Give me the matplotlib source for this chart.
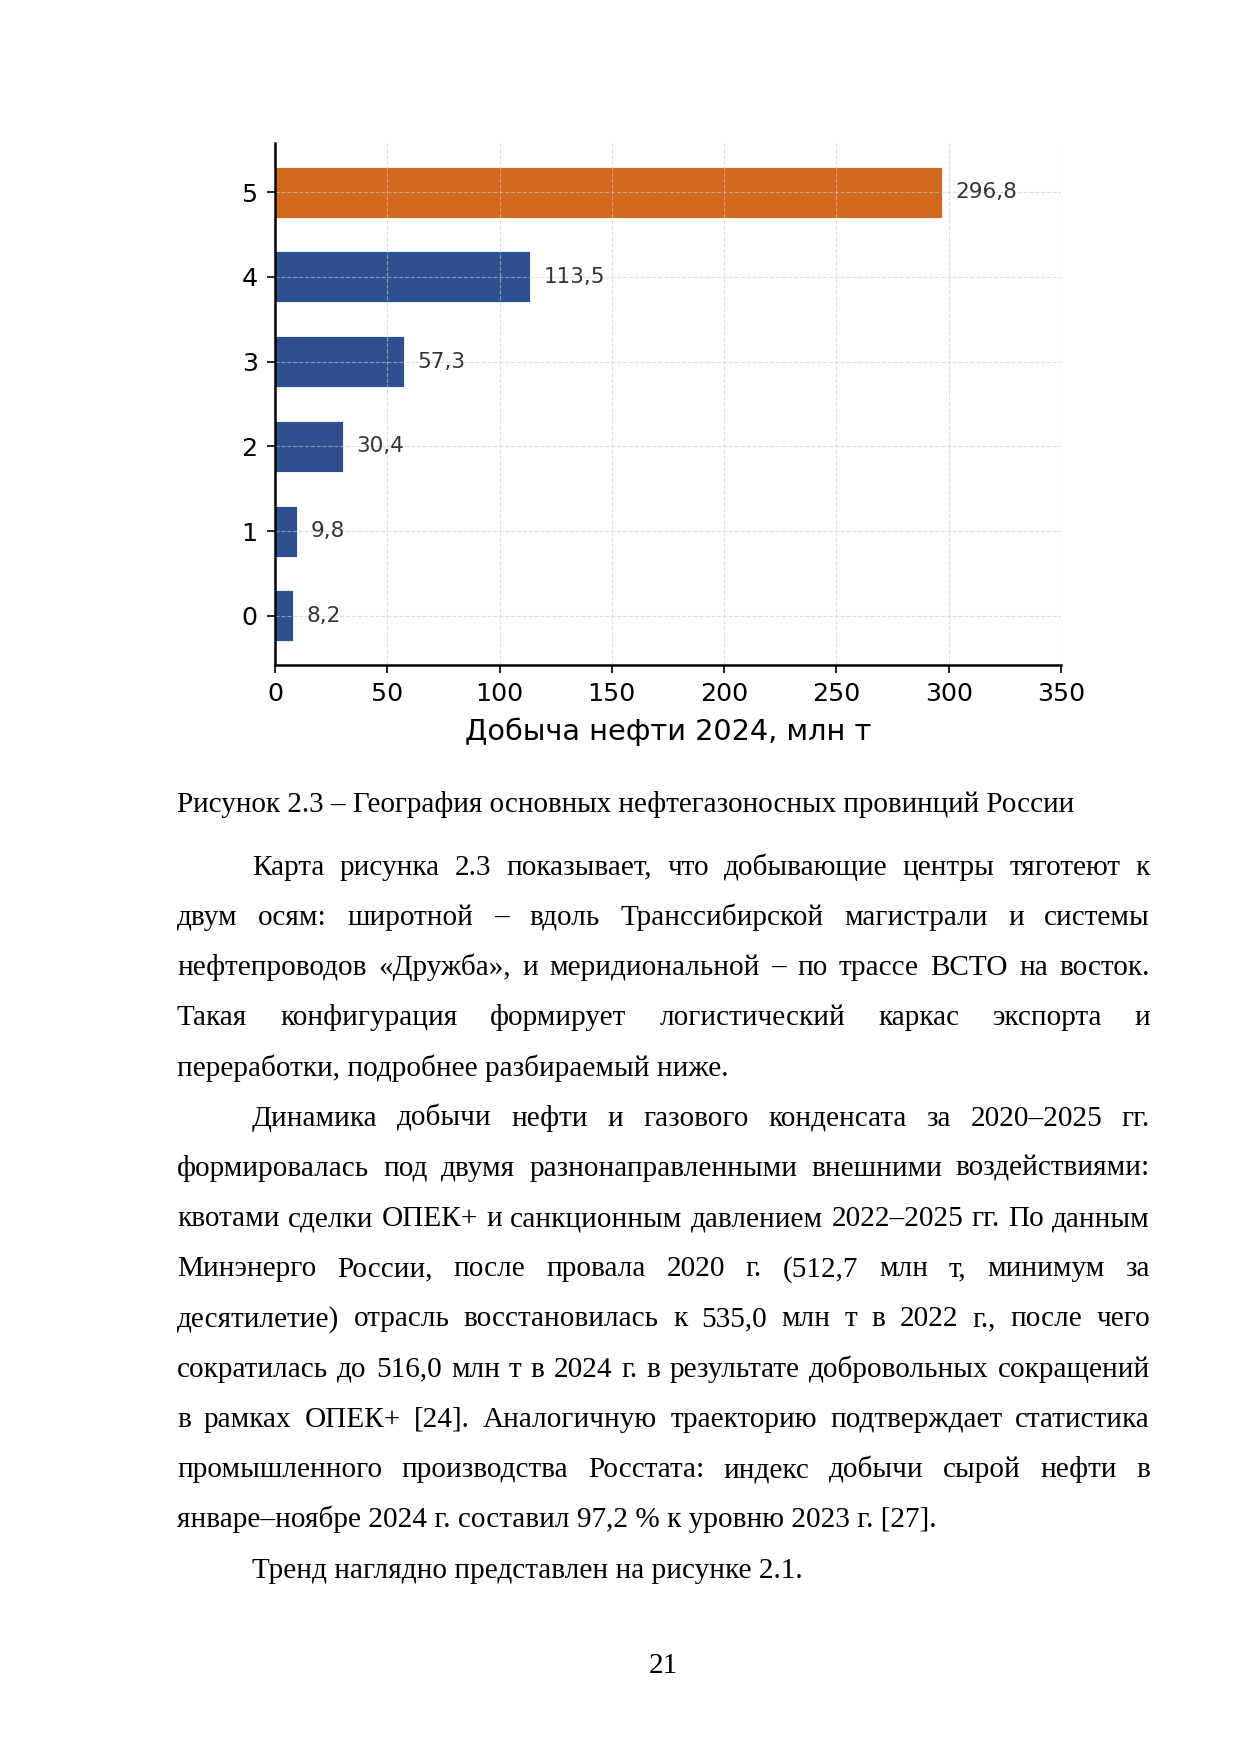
import matplotlib
matplotlib.use("Agg")
import matplotlib.pyplot as plt

# chart data
provinces = [0, 1, 2, 3, 4, 5]
output_2024 = [8.2, 9.8, 30.4, 57.3, 113.5, 296.8]
value_labels = ["8,2", "9,8", "30,4", "57,3", "113,5", "296,8"]
x_ticks = [0, 50, 100, 150, 200, 250, 300, 350]
x_label = "Добыча нефти 2024, млн т"

caption = "Рисунок 2.3 – География основных нефтегазоносных провинций России"

# body text, line by line as on the page: (text, indent, justify)
body_lines = [
    ("Карта рисунка 2.3 показывает, что добывающие центры тяготеют к", True, True),
    ("двум осям: широтной – вдоль Транссибирской магистрали и системы", False, True),
    ("нефтепроводов «Дружба», и меридиональной – по трассе ВСТО на восток.", False, True),
    ("Такая конфигурация формирует логистический каркас экспорта и", False, True),
    ("переработки, подробнее разбираемый ниже.", False, False),
    ("Динамика добычи нефти и газового конденсата за 2020–2025 гг.", True, True),
    ("формировалась под двумя разнонаправленными внешними воздействиями:", False, True),
    ("квотами сделки ОПЕК+ и санкционным давлением 2022–2025 гг. По данным", False, True),
    ("Минэнерго России, после провала 2020 г. (512,7 млн т, минимум за", False, True),
    ("десятилетие) отрасль восстановилась к 535,0 млн т в 2022 г., после чего", False, True),
    ("сократилась до 516,0 млн т в 2024 г. в результате добровольных сокращений", False, True),
    ("в рамках ОПЕК+ [24]. Аналогичную траекторию подтверждает статистика", False, True),
    ("промышленного производства Росстата: индекс добычи сырой нефти в", False, True),
    ("январе–ноябре 2024 г. составил 97,2 % к уровню 2023 г. [27].", False, False),
    ("Тренд наглядно представлен на рисунке 2.1.", True, False),
]
page_number = "21"

W, H = 1241, 1754
fig = plt.figure(figsize=(W / 100, H / 100), dpi=100)
fig.patch.set_facecolor("white")

# --- chart ---
ax = fig.add_axes([275 / W, 1 - 665 / H, (1061 - 275) / W, (665 - 143) / H])
colors = ["#2E5090"] * 5 + ["#D2691E"]
ax.barh(provinces, output_2024, height=0.6, color=colors, edgecolor="white", linewidth=0.6)
for p, v, lab in zip(provinces, output_2024, value_labels):
    ax.text(v + 6, p, lab, va="center", ha="left", fontsize=15.5, color="#333333",
            family="DejaVu Sans")
ax.set_xlim(0, 350)
ax.set_xticks(x_ticks)
ax.set_yticks(provinces)
ax.tick_params(axis="both", labelsize=18.3, length=6, width=1.2, pad=6.5)
ax.set_xlabel(x_label, fontsize=20.7, labelpad=8)
ax.grid(True, linestyle="--", color="#cccccc", alpha=0.6, linewidth=0.8)
for s in ["top", "right"]:
    ax.spines[s].set_visible(False)
for s in ["left", "bottom"]:
    ax.spines[s].set_linewidth(1.8)

# --- page text ---
serif = "Liberation Serif"
fs = 21.1
left, right, indent = 177, 1150, 252
fig.text(left / W, 1 - 812 / H, caption, family=serif, fontsize=20.95, va="baseline")

renderer = fig.canvas.get_renderer()
base0, step = 874.7, 50.2
for i, (line, ind, just) in enumerate(body_lines):
    yb = 1 - (base0 + i * step) / H
    x0 = indent if ind else left
    if not just:
        fig.text(x0 / W, yb, line, family=serif, fontsize=fs, va="baseline")
        continue
    words = line.split(" ")
    texts = [fig.text(0, yb, w, family=serif, fontsize=fs, va="baseline") for w in words]
    widths = [t.get_window_extent(renderer).width for t in texts]
    gap = (right - x0 - sum(widths)) / (len(words) - 1)
    x = x0
    for t, w in zip(texts, widths):
        t.set_x(x / W)
        x += w + gap

fig.text(663 / W, 1 - 1673 / H, page_number, family=serif, fontsize=fs, va="baseline", ha="center")

fig.savefig("out.png", dpi=100, facecolor="white")
